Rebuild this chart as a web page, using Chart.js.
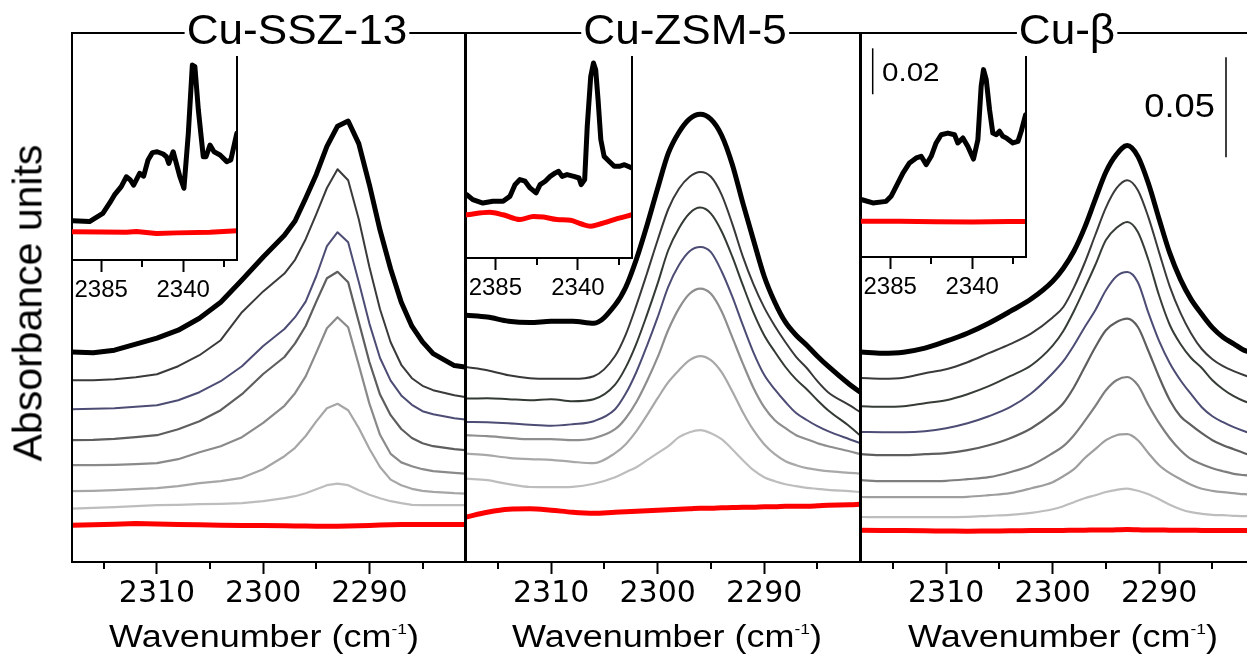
<!DOCTYPE html>
<html><head><meta charset="utf-8">
<script src="https://cdn.jsdelivr.net/npm/chart.js@4.4.1/dist/chart.umd.min.js"></script>
<style>
html,body{margin:0;padding:0;background:#fff;overflow:hidden;}
#stage{position:relative;width:1247px;height:655px;overflow:hidden;background:#fff;}
canvas{position:absolute;}
.t{position:absolute;font-family:"Liberation Sans",Arial,sans-serif;color:#000;white-space:nowrap;line-height:1;}
.title{font-size:42px;top:9.4px;background:#fff;padding:0 2px;transform:translateX(-50%) scaleX(1.05);}
.xl{font-size:31px;top:620.5px;transform:translateX(-50%) scaleX(1.16);}
.xl sup{font-size:15px;vertical-align:13px;line-height:0;}
</style></head><body><div id="stage">
<canvas id="m1"></canvas><canvas id="m2"></canvas><canvas id="m3"></canvas>
<canvas id="i1"></canvas><canvas id="i2"></canvas><canvas id="i3"></canvas>
<div class="t title" style="left:296.7px">Cu-SSZ-13</div>
<div class="t title" style="left:685px">Cu-ZSM-5</div>
<div class="t title" style="left:1066.5px">Cu-β</div>
<div class="t xl" style="left:264px">Wavenumber (cm<sup>-1</sup>)</div>
<div class="t xl" style="left:666.7px">Wavenumber (cm<sup>-1</sup>)</div>
<div class="t xl" style="left:1063.3px">Wavenumber (cm<sup>-1</sup>)</div>
<div class="t" style="left:27.5px;top:302.5px;font-size:41px;transform:translate(-50%,-50%) rotate(-90deg);">Absorbance units</div>
<div class="t" style="left:1215px;top:88.8px;font-size:33px;transform-origin:100% 50%;transform:translateX(-100%) scaleX(1.1);">0.05</div>
<div class="t" style="left:881.7px;top:60.1px;font-size:25.5px;transform-origin:0 50%;transform:scaleX(1.16);">0.02</div>
</div>
<script>
// ---------- data: wavenumber grids (cm-1) ----------
const W1 = [2318,2316,2314,2312,2310,2308,2306,2304,2302,2300,2298,2297,2296,2295,2294,2293,2292,2291,2290,2289,2288,2287,2286,2285,2284,2282,2281];
const W2 = [2318,2316,2314,2312,2310,2308,2306,2304,2303,2302,2301,2300,2299,2298,2297,2296,2295,2294,2293,2292,2291,2290,2289,2288,2287,2286,2285,2284,2282,2281];
const W3 = [2318,2316,2314,2312,2310,2308,2306,2304,2302,2300,2299,2298,2297,2296,2295,2294,2293,2292,2291,2290,2289,2288,2287,2286,2285,2284,2283,2282,2281];

// ---------- Cu-SSZ-13 (absorbance, offset) ----------
const P1_BLACK = [0.1050,0.1046,0.1059,0.1089,0.1119,0.1159,0.1219,0.1299,0.1410,0.1525,0.1634,0.1705,0.1819,0.1938,0.2078,0.2179,0.2205,0.2092,0.1886,0.1659,0.1465,0.1299,0.1179,0.1101,0.1042,0.0982,0.0975];
const P1_C2 = [0.0909,0.0909,0.0914,0.0924,0.0939,0.0979,0.1034,0.1109,0.1249,0.1353,0.1442,0.1511,0.1614,0.1739,0.1870,0.1964,0.1909,0.1714,0.1475,0.1264,0.1099,0.0986,0.0919,0.0881,0.0859,0.0834,0.0825];
const P1_BLUE = [0.0764,0.0766,0.0769,0.0776,0.0784,0.0809,0.0849,0.0904,0.0979,0.1080,0.1165,0.1224,0.1302,0.1430,0.1579,0.1649,0.1599,0.1400,0.1192,0.1020,0.0907,0.0833,0.0786,0.0754,0.0739,0.0719,0.0712];
const P1_C4 = [0.0609,0.0611,0.0616,0.0624,0.0634,0.0664,0.0704,0.0759,0.0839,0.0940,0.1025,0.1093,0.1180,0.1302,0.1419,0.1451,0.1399,0.1200,0.1000,0.0837,0.0734,0.0665,0.0620,0.0594,0.0579,0.0564,0.0559];
const P1_C5 = [0.0484,0.0484,0.0486,0.0489,0.0494,0.0514,0.0549,0.0579,0.0624,0.0696,0.0781,0.0844,0.0928,0.1047,0.1169,0.1224,0.1174,0.0985,0.0792,0.0636,0.0541,0.0498,0.0479,0.0464,0.0454,0.0446,0.0442];
const P1_C6 = [0.0354,0.0356,0.0359,0.0364,0.0369,0.0379,0.0394,0.0404,0.0421,0.0464,0.0529,0.0571,0.0630,0.0703,0.0769,0.0791,0.0759,0.0670,0.0566,0.0475,0.0412,0.0384,0.0366,0.0356,0.0351,0.0344,0.0342];
const P1_C7 = [0.0267,0.0271,0.0274,0.0279,0.0284,0.0286,0.0289,0.0291,0.0294,0.0304,0.0319,0.0329,0.0344,0.0364,0.0384,0.0392,0.0384,0.0359,0.0336,0.0319,0.0304,0.0294,0.0286,0.0284,0.0284,0.0284,0.0284];
const P1_RED = [0.0184,0.0186,0.0189,0.0192,0.0190,0.0188,0.0186,0.0184,0.0183,0.0182,0.0181,0.0180,0.0180,0.0179,0.0179,0.0179,0.0180,0.0181,0.0183,0.0185,0.0186,0.0187,0.0188,0.0188,0.0188,0.0188,0.0188];

// ---------- Cu-ZSM-5 ----------
const P2_BLACK = [0.1234,0.1225,0.1204,0.1197,0.1204,0.1204,0.1194,0.1285,0.1374,0.1514,0.1684,0.1869,0.2044,0.2149,0.2216,0.2239,0.2214,0.2134,0.1989,0.1794,0.1609,0.1429,0.1299,0.1199,0.1134,0.1084,0.1029,0.0979,0.0889,0.0850];
const P2_C2 = [0.0975,0.0959,0.0934,0.0919,0.0916,0.0916,0.0929,0.1030,0.1137,0.1283,0.1444,0.1610,0.1765,0.1866,0.1926,0.1950,0.1926,0.1837,0.1692,0.1527,0.1388,0.1273,0.1180,0.1099,0.1026,0.0970,0.0904,0.0849,0.0784,0.0750];
const P2_C3 = [0.0817,0.0819,0.0814,0.0809,0.0814,0.0804,0.0814,0.0887,0.0973,0.1092,0.1237,0.1393,0.1560,0.1669,0.1744,0.1772,0.1742,0.1654,0.1528,0.1384,0.1247,0.1134,0.1051,0.0975,0.0913,0.0864,0.0809,0.0759,0.0679,0.0634];
const P2_BLUE = [0.0700,0.0699,0.0694,0.0686,0.0681,0.0689,0.0704,0.0764,0.0842,0.0950,0.1082,0.1224,0.1377,0.1485,0.1554,0.1575,0.1549,0.1454,0.1328,0.1184,0.1047,0.0936,0.0863,0.0800,0.0745,0.0710,0.0679,0.0654,0.0614,0.0595];
const P2_C5 = [0.0634,0.0629,0.0621,0.0614,0.0614,0.0609,0.0619,0.0664,0.0719,0.0800,0.0905,0.1024,0.1161,0.1268,0.1341,0.1367,0.1341,0.1254,0.1124,0.0992,0.0870,0.0774,0.0709,0.0669,0.0634,0.0614,0.0594,0.0579,0.0554,0.0539];
const P2_C6 = [0.0542,0.0534,0.0521,0.0514,0.0511,0.0501,0.0494,0.0544,0.0589,0.0654,0.0734,0.0819,0.0899,0.0959,0.1009,0.1029,0.1009,0.0949,0.0854,0.0749,0.0659,0.0589,0.0539,0.0504,0.0484,0.0469,0.0461,0.0454,0.0446,0.0442];
const P2_C7 = [0.0417,0.0409,0.0389,0.0375,0.0374,0.0376,0.0391,0.0424,0.0449,0.0474,0.0509,0.0544,0.0579,0.0624,0.0649,0.0659,0.0644,0.0614,0.0564,0.0509,0.0459,0.0424,0.0404,0.0389,0.0379,0.0371,0.0366,0.0361,0.0354,0.0350];
const P2_RED = [0.0225,0.0249,0.0264,0.0266,0.0259,0.0249,0.0244,0.0249,0.0251,0.0254,0.0256,0.0259,0.0261,0.0264,0.0266,0.0269,0.0269,0.0271,0.0272,0.0274,0.0274,0.0276,0.0276,0.0279,0.0279,0.0279,0.0281,0.0284,0.0286,0.0289];

// ---------- Cu-beta ----------
const P3_BLACK = [0.1050,0.1044,0.1049,0.1069,0.1104,0.1144,0.1194,0.1253,0.1316,0.1404,0.1469,0.1555,0.1672,0.1813,0.1950,0.2038,0.2082,0.2028,0.1891,0.1714,0.1544,0.1413,0.1313,0.1239,0.1172,0.1124,0.1091,0.1058,0.1045];
const P3_C2 = [0.0920,0.0916,0.0921,0.0944,0.0964,0.0999,0.1044,0.1089,0.1143,0.1223,0.1275,0.1373,0.1495,0.1635,0.1772,0.1869,0.1909,0.1859,0.1722,0.1547,0.1377,0.1246,0.1143,0.1065,0.1014,0.0979,0.0954,0.0934,0.0919];
const P3_C3 = [0.0779,0.0776,0.0779,0.0794,0.0809,0.0839,0.0879,0.0929,0.0984,0.1082,0.1155,0.1255,0.1368,0.1485,0.1610,0.1671,0.1700,0.1650,0.1509,0.1331,0.1185,0.1090,0.1020,0.0970,0.0909,0.0864,0.0829,0.0804,0.0789];
const P3_BLUE = [0.0650,0.0649,0.0649,0.0654,0.0669,0.0694,0.0729,0.0774,0.0844,0.0944,0.1004,0.1084,0.1174,0.1259,0.1359,0.1429,0.1450,0.1399,0.1244,0.1104,0.0994,0.0909,0.0839,0.0774,0.0729,0.0699,0.0674,0.0654,0.0639];
const P3_C5 = [0.0539,0.0534,0.0534,0.0539,0.0544,0.0559,0.0584,0.0619,0.0669,0.0744,0.0794,0.0874,0.0974,0.1074,0.1159,0.1200,0.1217,0.1175,0.1054,0.0924,0.0809,0.0729,0.0684,0.0644,0.0609,0.0584,0.0564,0.0544,0.0529];
const P3_C6 = [0.0409,0.0404,0.0404,0.0404,0.0406,0.0414,0.0424,0.0449,0.0484,0.0544,0.0579,0.0634,0.0704,0.0779,0.0859,0.0909,0.0925,0.0884,0.0784,0.0694,0.0619,0.0559,0.0514,0.0489,0.0469,0.0454,0.0441,0.0434,0.0429];
const P3_C7 = [0.0325,0.0324,0.0324,0.0324,0.0324,0.0326,0.0334,0.0344,0.0369,0.0399,0.0429,0.0464,0.0519,0.0564,0.0609,0.0634,0.0639,0.0609,0.0544,0.0484,0.0444,0.0414,0.0386,0.0366,0.0356,0.0349,0.0344,0.0339,0.0336];
const P3_C8 = [0.0225,0.0224,0.0224,0.0224,0.0224,0.0226,0.0231,0.0236,0.0246,0.0264,0.0279,0.0299,0.0319,0.0334,0.0350,0.0361,0.0367,0.0356,0.0339,0.0314,0.0286,0.0264,0.0249,0.0241,0.0236,0.0234,0.0231,0.0229,0.0229];
const P3_RED = [0.0159,0.0158,0.0157,0.0156,0.0155,0.0154,0.0155,0.0156,0.0157,0.0158,0.0158,0.0159,0.0159,0.0160,0.0160,0.0161,0.0162,0.0161,0.0160,0.0160,0.0159,0.0159,0.0159,0.0158,0.0158,0.0158,0.0158,0.0158,0.0158];

// ---------- insets (2400-2310 cm-1) ----------
const I1_BLACK_W = [2400.6,2391.4,2384.1,2380.4,2377.7,2374.0,2371.2,2369.0,2367.2,2363.9,2361.7,2359.3,2356.9,2354.3,2351.0,2349.2,2347.9,2345.5,2341.8,2339.6,2337.2,2335.0,2333.6,2331.7,2329.0,2327.5,2325.3,2323.1,2319.8,2316.1,2313.9,2310.6];
const I1_BLACK_A = [0.0171,0.0167,0.0203,0.0247,0.0283,0.0319,0.0362,0.0348,0.0326,0.0377,0.0365,0.0435,0.0467,0.0471,0.0461,0.0449,0.0420,0.0471,0.0362,0.0312,0.0551,0.0848,0.0841,0.0653,0.0449,0.0449,0.0500,0.0471,0.0457,0.0428,0.0435,0.0551];
const I1_RED_W = [2400.6,2385.0,2371.2,2365.7,2354.7,2343.7,2325.3,2310.6];
const I1_RED_A = [0.0123,0.0122,0.0121,0.0124,0.0115,0.0118,0.0121,0.0127];

const I2_BLACK_W = [2400.6,2397.3,2391.8,2386.3,2380.8,2377.1,2374.3,2371.6,2368.8,2366.1,2362.8,2360.6,2357.8,2355.1,2352.3,2350.5,2348.6,2345.9,2342.2,2339.4,2338.2,2336.3,2334.9,2333.0,2331.5,2330.3,2329.0,2327.5,2325.7,2322.9,2320.2,2317.4,2314.6,2310.6];
const I2_BLACK_A = [0.0276,0.0254,0.0239,0.0247,0.0247,0.0268,0.0319,0.0341,0.0334,0.0305,0.0283,0.0319,0.0334,0.0355,0.0370,0.0377,0.0355,0.0363,0.0355,0.0348,0.0319,0.0341,0.0573,0.0790,0.0848,0.0819,0.0689,0.0515,0.0442,0.0420,0.0399,0.0399,0.0406,0.0392];
const I2_RED_W = [2400.6,2388.1,2380.8,2371.6,2364.2,2358.7,2351.4,2344.0,2338.5,2333.0,2327.5,2320.2,2310.6];
const I2_RED_A = [0.0188,0.0199,0.0188,0.0167,0.0181,0.0178,0.0167,0.0164,0.0149,0.0138,0.0149,0.0167,0.0188];

const I3_BLACK_W = [2400.4,2394.5,2387.2,2384.5,2381.7,2378.0,2374.4,2370.7,2368.0,2365.2,2362.5,2359.8,2357.0,2353.4,2349.7,2347.9,2345.1,2342.4,2339.3,2336.9,2335.1,2333.8,2332.3,2330.5,2328.7,2326.8,2325.0,2323.2,2321.3,2317.7,2314.9,2313.1,2310.7];
const I3_BLACK_A = [0.0249,0.0235,0.0242,0.0264,0.0307,0.0365,0.0409,0.0431,0.0438,0.0402,0.0438,0.0496,0.0532,0.0539,0.0532,0.0496,0.0518,0.0481,0.0426,0.0510,0.0742,0.0815,0.0771,0.0641,0.0539,0.0532,0.0547,0.0525,0.0518,0.0496,0.0503,0.0547,0.0619];
const I3_RED_W = [2400.4,2380.0,2360.0,2340.0,2320.0,2310.7];
const I3_RED_A = [0.0155,0.0156,0.0153,0.0152,0.0154,0.0154];

// ---------- tick labels / scale bars ----------
const MAIN_MAJOR = [2310, 2300, 2290];
const MAIN_MINOR = [2315, 2305, 2295, 2285];
const INSET_MAJOR = [2385, 2340];
const INSET_MINOR = [2362.5, 2317.5];
const BAR_MAIN = 0.05;
const BAR_INSET = 0.02;

// ---------- layout ----------
const PAD = 40;
const MAIN_TOP = 33, MAIN_H = 529, CANVAS_H = 655;
const ABS_PER_PX_MAIN = 0.0005, ABS_PER_PX_INSET = 0.000435;
const INSET_TOP = 57;

function framePlugin(kind) {
  return { id: 'frame', afterDatasetsDraw(chart) {
    const a = chart.chartArea, c = chart.ctx;
    c.save(); c.strokeStyle = '#000'; c.lineWidth = 2; c.lineCap = 'square';
    c.beginPath();
    if (kind === 'main') c.rect(a.left, a.top, a.right - a.left, a.bottom - a.top);
    else { c.moveTo(a.left, a.bottom); c.lineTo(a.right, a.bottom); c.lineTo(a.right, a.top); }
    c.stroke(); c.restore();
  }};
}
function minorPlugin(values, len) {
  return { id: 'minor', afterDraw(chart) {
    const s = chart.scales.x, a = chart.chartArea, c = chart.ctx;
    c.save(); c.strokeStyle = '#000'; c.lineWidth = 2; c.beginPath();
    values.forEach(v => { const px = Math.round(s.getPixelForValue(v)); c.moveTo(px, a.bottom); c.lineTo(px, a.bottom + len); });
    c.stroke(); c.restore();
  }};
}
function barPlugin(xCanvas, topPx, amount) {
  return { id: 'bar', afterDraw(chart) {
    const y = chart.scales.y, c = chart.ctx;
    const len = y.getPixelForValue(0) - y.getPixelForValue(amount);
    c.save(); c.strokeStyle = '#000'; c.lineWidth = 1.5; c.beginPath();
    c.moveTo(xCanvas, topPx); c.lineTo(xCanvas, topPx + len); c.stroke(); c.restore();
  }};
}

function makeDatasets(series) {
  return series.map(s => ({
    data: s.w.map((w, i) => ({ x: w, y: s.a[i] })),
    borderColor: s.color, borderWidth: s.width, pointRadius: 0, fill: false,
    borderJoinStyle: 'round', borderCapStyle: 'round',
    tension: 0, cubicInterpolationMode: s.smooth ? 'monotone' : 'default'
  }));
}

function mainChart(id, left, width, series, extraPlugins) {
  const cv = document.getElementById(id);
  cv.width = width + 2 * PAD; cv.height = CANVAS_H;
  cv.style.left = (left - PAD) + 'px'; cv.style.top = '0px';
  new Chart(cv, {
    type: 'line',
    data: { datasets: makeDatasets(series) },
    options: {
      responsive: false, animation: false, events: [],
      layout: { padding: { left: PAD, right: PAD, top: MAIN_TOP, bottom: 0 } },
      plugins: { legend: { display: false }, tooltip: { enabled: false } },
      scales: {
        x: { type: 'linear', min: 2281, max: 2318, reverse: true,
          afterBuildTicks: s => { s.ticks = MAIN_MAJOR.map(v => ({ value: v })); },
          afterFit: s => { s.height = CANVAS_H - MAIN_TOP - MAIN_H; },
          grid: { display: true, drawOnChartArea: false, drawTicks: true, tickLength: 12, tickWidth: 2, tickColor: '#000' },
          border: { display: false },
          ticks: { color: '#000', font: { family: 'DejaVu Sans', size: 30 }, padding: 2, maxRotation: 0, autoSkip: false, callback: v => String(v) } },
        y: { display: false, min: 0, max: MAIN_H * ABS_PER_PX_MAIN }
      }
    },
    plugins: [framePlugin('main'), minorPlugin(MAIN_MINOR, 7)].concat(extraPlugins || [])
  });
}

function insetChart(id, left, width, bottom, series, extraPlugins) {
  const cv = document.getElementById(id);
  const axisH = 60;
  cv.width = width + 2 * PAD; cv.height = bottom + axisH;
  cv.style.left = (left - PAD) + 'px'; cv.style.top = '0px';
  new Chart(cv, {
    type: 'line',
    data: { datasets: makeDatasets(series) },
    options: {
      responsive: false, animation: false, events: [],
      layout: { padding: { left: PAD, right: PAD, top: INSET_TOP, bottom: 0 } },
      plugins: { legend: { display: false }, tooltip: { enabled: false } },
      scales: {
        x: { type: 'linear', min: 2310.5, max: 2401, reverse: true,
          afterBuildTicks: s => { s.ticks = INSET_MAJOR.map(v => ({ value: v })); },
          afterFit: s => { s.height = axisH; },
          grid: { display: true, drawOnChartArea: false, drawTicks: true, tickLength: 12, tickWidth: 2, tickColor: '#000' },
          border: { display: false },
          ticks: { color: '#000', font: { family: 'Liberation Sans', size: 24 }, padding: 4, maxRotation: 0, autoSkip: false, callback: v => String(v) } },
        y: { display: false, min: 0, max: (bottom - INSET_TOP) * ABS_PER_PX_INSET }
      }
    },
    plugins: [framePlugin('inset'), minorPlugin(INSET_MINOR, 7)].concat(extraPlugins || [])
  });
}

const RED = '#ff0000';
const S = (w, a, color, width, smooth) => ({ w, a, color, width, smooth });

mainChart('m1', 72, 393, [
  S(W1, P1_C7, '#bdbdbd', 2.2), S(W1, P1_C6, '#a6a6a6', 2.2), S(W1, P1_C5, '#8a8a8a', 2.2),
  S(W1, P1_C4, '#5e5e5e', 2.2), S(W1, P1_BLUE, '#4c4c74', 2), S(W1, P1_C2, '#3a3a3a', 2),
  S(W1, P1_BLACK, '#000000', 5), S(W1, P1_RED, RED, 5)
]);
mainChart('m2', 466, 394, [
  S(W2, P2_C7, '#bdbdbd', 2.2, true), S(W2, P2_C6, '#a8a8a8', 2.2, true), S(W2, P2_C5, '#8e8e8e', 2.2, true),
  S(W2, P2_BLUE, '#4c4c74', 2, true), S(W2, P2_C3, '#333a33', 2, true), S(W2, P2_C2, '#383838', 2, true),
  S(W2, P2_BLACK, '#000000', 5, true), S(W2, P2_RED, RED, 5, true)
]);
mainChart('m3', 861, 394, [
  S(W3, P3_C8, '#bdbdbd', 2.2, true), S(W3, P3_C7, '#9e9e9e', 2.2, true), S(W3, P3_C6, '#7e7e7e', 2.2, true),
  S(W3, P3_C5, '#5e5e5e', 2.2, true), S(W3, P3_BLUE, '#4c4c74', 2, true), S(W3, P3_C3, '#363c36', 2, true),
  S(W3, P3_C2, '#3a3a3a', 2, true), S(W3, P3_BLACK, '#000000', 5, true), S(W3, P3_RED, RED, 5, true)
], [barPlugin(1226 - (861 - PAD), 57.3, BAR_MAIN)]);

insetChart('i1', 72, 165, 260, [S(I1_RED_W, I1_RED_A, RED, 5), S(I1_BLACK_W, I1_BLACK_A, '#000000', 5)]);
insetChart('i2', 466, 166, 258, [S(I2_RED_W, I2_RED_A, RED, 5, true), S(I2_BLACK_W, I2_BLACK_A, '#000000', 5)]);
insetChart('i3', 861, 165, 257, [S(I3_RED_W, I3_RED_A, RED, 5), S(I3_BLACK_W, I3_BLACK_A, '#000000', 5)],
  [barPlugin(872.7 - (861 - PAD), 48.3, BAR_INSET)]);
</script>
</body></html>
